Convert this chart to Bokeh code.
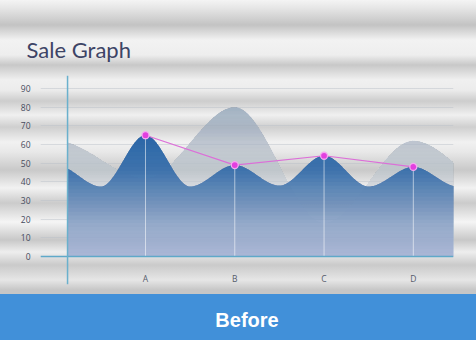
import numpy as np
from bokeh.plotting import figure
from bokeh.layouts import column
from bokeh.models import Span, FixedTicker
from bokeh.core.properties import value
from bokeh.embed import file_html
from bokeh.resources import INLINE

# ---------------- data ----------------
title_text = "Sale Graph"
footer_text = "Before"
categories = ["A", "B", "C", "D"]
cat_pos = [1, 2, 3, 4]
sales = [65, 49, 54, 48]

# front (blue) wave: key extremes (peaks at the categories, troughs between)
wave_x = [0, 0.5, 1, 1.5, 2, 2.5, 3, 3.5, 4, 4.5]
wave_y = [49, 37.5, 65, 37.5, 49, 38, 54, 37.5, 48, 37.5]

# back (light) wave: key extremes
back_x = [0, 1, 2, 3, 4, 5]
back_y = [62, 42, 80, 18, 62, 35]

y_ticks = [0, 10, 20, 30, 40, 50, 60, 70, 80, 90]

# ---------------- helpers ----------------
def smooth(xk, yk, xs):
    """Smooth curve through key extremes (flat tangents at each key point)."""
    xk = np.asarray(xk, float)
    yk = np.asarray(yk, float)
    idx = np.clip(np.searchsorted(xk, xs, side="right") - 1, 0, len(xk) - 2)
    t = (xs - xk[idx]) / (xk[idx + 1] - xk[idx])
    s = t * t * (3 - 2 * t)
    return yk[idx] + (yk[idx + 1] - yk[idx]) * s


def stripes_css(stops, total):
    parts = [f"{c} {100.0 * y / total:.2f}%" for y, c in stops]
    return "linear-gradient(to bottom, " + ", ".join(parts) + ")"


AXIS_X = 0.127      # position of the vertical axis line
X_END = 4.5

# ---------------- main figure ----------------
W, H = 476, 294
p = figure(width=W, height=H, x_range=(-0.176, 4.45), y_range=(-15, 97),
           output_backend="svg", toolbar_location=None,
           min_border_left=40, min_border_right=23,
           min_border_top=75, min_border_bottom=10)
p.border_fill_color = None
p.background_fill_color = None
p.outline_line_color = None

# striped metallic background via CSS (pixel stops)
stop_list = [(0, "#f4f4f4"), (8, "#e6e6e6"), (25, "#c3c3c3"), (40, "#f2f2f2"),
             (55, "#eeeeee"), (65, "#c8c8c8"), (80, "#f0f0f0"), (90, "#ececec"),
             (101, "#cdcdcd"), (115, "#f0f0f0"), (127, "#cfcfcf"), (142, "#f1f1f1"),
             (152, "#e8e8e8"), (170, "#c9c9c9"), (188, "#f2f2f2"), (203, "#cbcbcb"),
             (222, "#f5f5f5"), (240, "#c8c8c8"), (252, "#eeeeee"), (265, "#cacaca"),
             (280, "#e6e6e6"), (290, "#c6c6c6"), (294, "#c6c6c6")]
p.styles = {"background": stripes_css(stop_list, H)}

# title
p.title.text = title_text
p.title.text_font = "Lato"
p.title.text_font_size = "22px"
p.title.text_font_style = "normal"
p.title.text_color = "#3d4466"
p.title.align = "left"
p.title.offset = -14
p.title.standoff = 25

# axes
p.xgrid.visible = False
p.ygrid.ticker = FixedTicker(ticks=y_ticks)
p.ygrid.grid_line_color = "#b9bec8"
p.ygrid.grid_line_alpha = 0.45

p.yaxis.ticker = FixedTicker(ticks=y_ticks)
p.yaxis.axis_line_color = None
p.yaxis.major_tick_line_color = None
p.yaxis.minor_tick_line_color = None
p.yaxis.major_label_standoff = 4
p.yaxis.major_label_text_font = "Open Sans"
p.yaxis.major_label_text_font_size = "8.5px"
p.yaxis.major_label_text_color = "#454a5c"

p.xaxis.ticker = FixedTicker(ticks=cat_pos)
p.xaxis.major_label_overrides = {k: v for k, v in zip(cat_pos, categories)}
p.xaxis.axis_line_color = None
p.xaxis.major_tick_line_color = None
p.xaxis.minor_tick_line_color = None
p.xaxis.major_tick_out = 0
p.xaxis.major_tick_in = 0
p.xaxis.major_label_standoff = -12
p.xaxis.major_label_text_font = "Open Sans"
p.xaxis.major_label_text_font_size = "8.5px"
p.xaxis.major_label_text_color = "#555b6b"

xs = np.linspace(AXIS_X, X_END, 500)

# ---- back wave (light, translucent, darker toward the top) ----
back = smooth(back_x, back_y, xs)
p.varea(x=xs, y1=0, y2=back, fill_color="#e2e9f1", fill_alpha=0.6)
back_f = [(0, 0.0), (40, 0.12), (60, 0.33), (80, 0.58)]
dark_back = "#86a1bb"
prev = 0.0
for lo in np.arange(2, 81, 2.0):
    f = np.interp(lo, [a for a, _ in back_f], [b for _, b in back_f])
    a = (f - prev) / (1 - prev) if prev < 1 else 0
    prev = f
    if a <= 0.001:
        continue
    top = np.maximum(back, lo)
    p.varea(x=xs, y1=lo, y2=top, fill_color=dark_back, fill_alpha=float(a))

# ---- front wave (blue gradient, darker toward the top) ----
wave = smooth(wave_x, wave_y, xs)
p.varea(x=xs, y1=0, y2=wave, fill_color="#9aa9ce", fill_alpha=0.8)
front_f = [(0, 0.0), (15, 0.12), (30, 0.42), (45, 0.74), (65, 0.92)]
dark_front = "#2163a6"
prev = 0.0
for lo in np.arange(2, 66, 2.0):
    f = np.interp(lo, [a for a, _ in front_f], [b for _, b in front_f])
    a = (f - prev) / (1 - prev) if prev < 1 else 0
    prev = f
    if a <= 0.001:
        continue
    top = np.maximum(wave, lo)
    p.varea(x=xs, y1=lo, y2=top, fill_color=dark_front, fill_alpha=float(a))

# axis lines
p.add_layout(Span(location=0, dimension="width", line_color="#5fa9c9", line_width=1.5))
p.add_layout(Span(location=AXIS_X, dimension="height", line_color="#6ab1cd", line_width=1.5))

# drop lines, connecting line, markers
p.segment(x0=cat_pos, y0=[0] * len(cat_pos), x1=cat_pos, y1=sales,
          line_color="white", line_alpha=0.55, line_width=1)
p.line(cat_pos, sales, line_color="#dc6fd8", line_width=1.2)
p.scatter(cat_pos, sales, size=7, fill_color="#e23fdf",
          line_color="#f4a8f0", line_width=1.3)

# ---------------- footer bar ----------------
q = figure(width=476, height=46, x_range=(0, 1), y_range=(0, 1),
           output_backend="svg", toolbar_location=None, min_border=0)
q.axis.visible = False
q.grid.visible = False
q.outline_line_color = None
q.background_fill_color = None
q.border_fill_color = None
q.styles = {"background": "#4190d9"}
q.text(x=[0.5], y=[0.5], text=[footer_text], text_align="center",
       text_baseline="middle", text_color="white", text_font=value("Liberation Sans"),
       text_font_style="bold", text_font_size="20px", y_offset=2)

layout = column(p, q, spacing=0)
open("out.html", "w").write(file_html(layout, INLINE))
